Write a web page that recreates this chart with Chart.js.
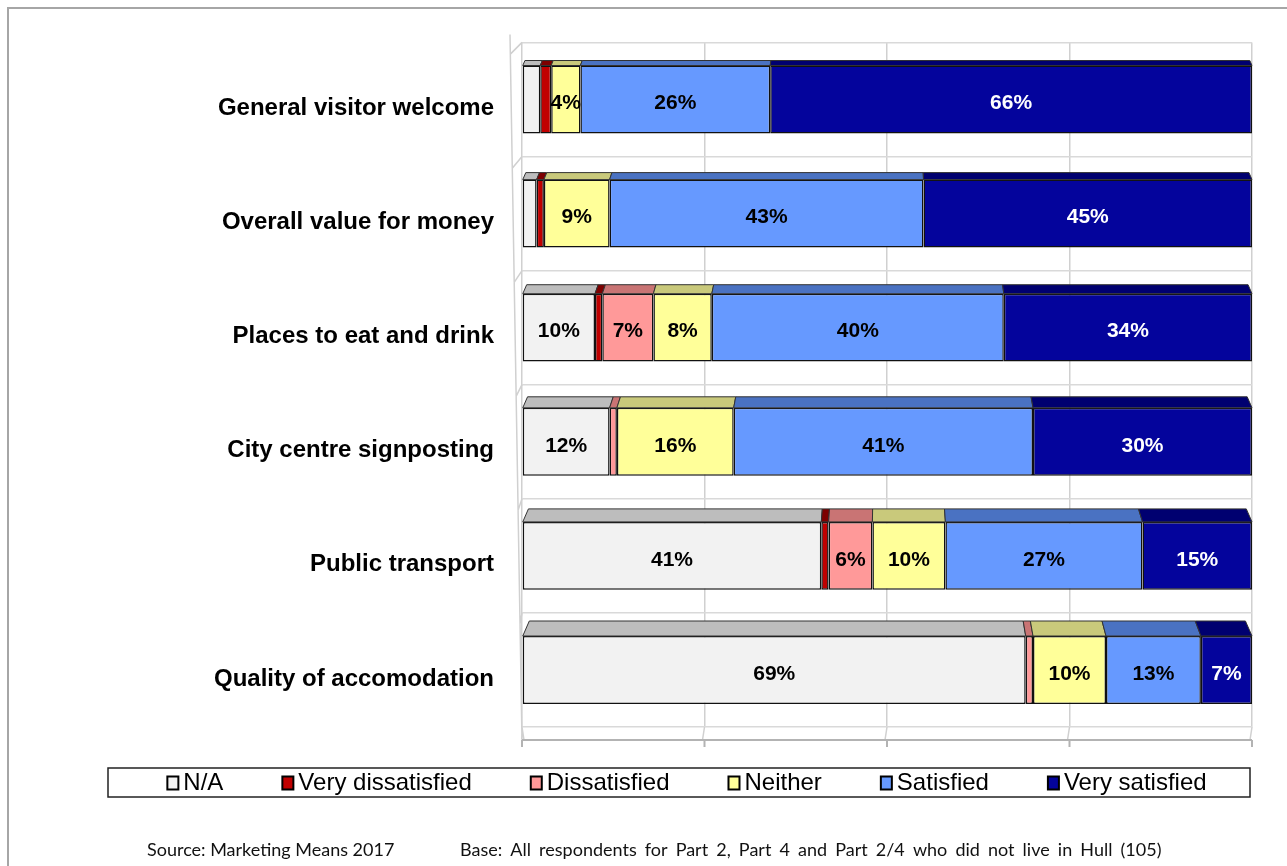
<!DOCTYPE html>
<html lang="en">
<head>
<meta charset="UTF-8">
<title>Visitor satisfaction</title>
<script src="https://cdn.jsdelivr.net/npm/chart.js"></script>
<style>
  html, body { margin: 0; padding: 0; background: #fff; }
  canvas { display: block; }
</style>
</head>
<body>
<canvas id="satChart" width="1287" height="866"></canvas>
<script>
// rows, top to bottom
const categories = ["General visitor welcome", "Overall value for money", "Places to eat and drink",
                    "City centre signposting", "Public transport", "Quality of accomodation"];
const seriesNames = ["N/A", "Very dissatisfied", "Dissatisfied", "Neither", "Satisfied", "Very satisfied"];

// percentages
const naValues               = [2.5, 2, 10, 12, 41, 69];
const veryDissatisfiedValues = [1.5, 1, 1, 0, 1, 0];
const dissatisfiedValues     = [0, 0, 7, 1, 6, 1];
const neitherValues          = [4, 9, 8, 16, 10, 10];
const satisfiedValues        = [26, 43, 40, 41, 27, 13];
const verySatisfiedValues    = [66, 45, 34, 30, 15, 7];

const xTicks = [0, 25, 50, 75, 100];

const sourceNote = "Source: Marketing Means 2017";
const baseNote = "Base: All respondents for Part 2, Part 4 and Part 2/4 who did not live in Hull (105)";

// styling
const frontColours = ["#f2f2f2", "#c00000", "#ff9999", "#ffff99", "#6699ff", "#04049c"];
const topColours   = ["#bdbdbd", "#7d0000", "#c97474", "#c9c97b", "#4a72c2", "#000070"];
const labelColours = ["#000", "#000", "#000", "#000", "#000", "#fff"];
const gridGrey = "#d0d0d0";
const arial = "'Liberation Sans', Arial, sans-serif";

const seriesValues = [naValues, veryDissatisfiedValues, dissatisfiedValues,
                      neitherValues, satisfiedValues, verySatisfiedValues];

const datasets = seriesNames.map((name, i) => ({
    label: name,
    data: seriesValues[i],
    backgroundColor: frontColours[i],
    borderColor: "#111",
    borderWidth: 1.5,
    borderSkipped: false
}));

// white page + thin frame at top/left
const backdrop = {
    id: "backdrop",
    beforeDraw(chart) {
        const ctx = chart.ctx;
        ctx.save();
        ctx.fillStyle = "#fff";
        ctx.fillRect(0, 0, chart.width, chart.height);
        ctx.strokeStyle = "#a6a6a6";
        ctx.lineWidth = 2;
        ctx.beginPath();
        ctx.moveTo(8, chart.height);
        ctx.lineTo(8, 8);
        ctx.lineTo(chart.width, 8);
        ctx.stroke();
        ctx.restore();
    }
};

// side wall and floor of the 3d box
const walls = {
    id: "walls",
    beforeDatasetsDraw(chart) {
        const ctx = chart.ctx;
        const area = chart.chartArea;
        const xs = chart.scales.x;
        const ys = chart.scales.y;
        const floorY = area.bottom + 13;
        ctx.save();
        ctx.strokeStyle = gridGrey;
        ctx.lineWidth = 1.5;
        ctx.beginPath();
        // back edge of the side wall
        ctx.moveTo(area.left - 12, area.top - 8);
        ctx.lineTo(area.left, floorY);
        // wall diagonals at the row boundaries
        for (let i = 0; i <= categories.length; i++) {
            const yb = ys.getPixelForValue(i - 0.5);
            const t = (yb - area.top + 8) / (floorY - area.top + 8);
            const wx = area.left - 12 + 12 * t;
            ctx.moveTo(wx, yb + 12);
            ctx.lineTo(area.left, yb);
        }
        // floor slants from grid to front edge
        xTicks.forEach(v => {
            const px = xs.getPixelForValue(v);
            ctx.moveTo(px, area.bottom);
            ctx.lineTo(px + (v === 0 ? 2 : -2), floorY);
        });
        ctx.stroke();
        // front floor edge with ticks
        ctx.strokeStyle = "#b3b3b3";
        ctx.lineWidth = 2;
        ctx.beginPath();
        ctx.moveTo(xs.getPixelForValue(0), floorY);
        ctx.lineTo(xs.getPixelForValue(100), floorY);
        xTicks.forEach(v => {
            const px = xs.getPixelForValue(v);
            ctx.moveTo(px, floorY);
            ctx.lineTo(px, floorY + 7);
        });
        ctx.stroke();
        ctx.restore();
    }
};

// top faces of the blocks and the % labels
const blocks = {
    id: "blocks",
    afterDatasetsDraw(chart) {
        const ctx = chart.ctx;
        const area = chart.chartArea;
        const cx = (area.left + area.right) / 2;
        ctx.save();
        chart.data.datasets.forEach((ds, di) => {
            const meta = chart.getDatasetMeta(di);
            meta.data.forEach((bar, ri) => {
                if (!ds.data[ri]) return;
                const depth = 5 + 2 * ri;
                const k = depth * 0.0012;
                const x0 = Math.min(bar.base, bar.x);
                const x1 = Math.max(bar.base, bar.x);
                const yTop = bar.y - bar.height / 2;
                ctx.beginPath();
                ctx.moveTo(x0, yTop);
                ctx.lineTo(x1, yTop);
                ctx.lineTo(x1 + (cx - x1) * k, yTop - depth);
                ctx.lineTo(x0 + (cx - x0) * k, yTop - depth);
                ctx.closePath();
                ctx.fillStyle = topColours[di];
                ctx.fill();
                ctx.strokeStyle = "#333";
                ctx.lineWidth = 1;
                ctx.stroke();
            });
        });
        ctx.font = "bold 21px " + arial;
        ctx.textAlign = "center";
        ctx.textBaseline = "middle";
        chart.data.datasets.forEach((ds, di) => {
            const meta = chart.getDatasetMeta(di);
            meta.data.forEach((bar, ri) => {
                const v = ds.data[ri];
                if (v < 3) return;
                ctx.fillStyle = labelColours[di];
                ctx.fillText(v + "%", (bar.base + bar.x) / 2, bar.y + 4);
            });
        });
        ctx.restore();
    }
};

// boxed legend and source line underneath
const legendAndNotes = {
    id: "legendAndNotes",
    afterDraw(chart) {
        const ctx = chart.ctx;
        ctx.save();
        const boxL = 108, boxR = 1250, boxT = 768, boxB = 797;
        ctx.strokeStyle = "#222";
        ctx.lineWidth = 1.5;
        ctx.strokeRect(boxL, boxT, boxR - boxL, boxB - boxT);

        ctx.font = "24px " + arial;
        ctx.textBaseline = "middle";
        ctx.textAlign = "left";
        const mark = 11, markGap = 5, itemGap = 59;
        const widths = chart.data.datasets.map(ds => mark + markGap + ctx.measureText(ds.label).width);
        const total = widths.reduce((a, b) => a + b, 0) + itemGap * (widths.length - 1);
        let x = 687 - total / 2;
        const midY = (boxT + boxB) / 2 + 1;
        chart.data.datasets.forEach((ds, i) => {
            ctx.fillStyle = ds.backgroundColor;
            ctx.fillRect(x, midY - 7, mark, 13);
            ctx.strokeStyle = "#000";
            ctx.lineWidth = 2;
            ctx.strokeRect(x, midY - 7, mark, 13);
            ctx.fillStyle = "#000";
            ctx.fillText(ds.label, x + mark + markGap, midY);
            x += widths[i] + itemGap;
        });

        ctx.font = "18px Lato, 'Open Sans', sans-serif";
        ctx.fillStyle = "#111";
        ctx.fillText(sourceNote, 147, 850);
        ctx.wordSpacing = "3.5px";
        ctx.fillText(baseNote, 460, 850);
        ctx.restore();
    }
};

new Chart(document.getElementById("satChart"), {
    type: "bar",
    data: { labels: categories, datasets: datasets },
    options: {
        indexAxis: "y",
        responsive: false,
        animation: false,
        layout: { padding: { top: 29, right: 35, bottom: 139, left: 0 } },
        plugins: {
            legend: { display: false },
            tooltip: { enabled: false }
        },
        datasets: { bar: { categoryPercentage: 1, barPercentage: 0.595 } },
        scales: {
            x: {
                stacked: true,
                min: 0,
                max: 100,
                ticks: { display: false, stepSize: 25 },
                grid: { color: gridGrey, lineWidth: 1.5, drawTicks: false },
                border: { display: false },
                afterFit: s => { s.height = 0; }
            },
            y: {
                stacked: true,
                grid: { color: "#d9d9d9", lineWidth: 1.5, drawTicks: false, offset: true },
                border: { display: false },
                ticks: {
                    color: "#000",
                    padding: 28,
                    labelOffset: 9,
                    font: { family: arial, size: 24, weight: "bold" }
                },
                afterFit: s => { s.width = 522; }
            }
        }
    },
    plugins: [backdrop, walls, blocks, legendAndNotes]
});
</script>
</body>
</html>
